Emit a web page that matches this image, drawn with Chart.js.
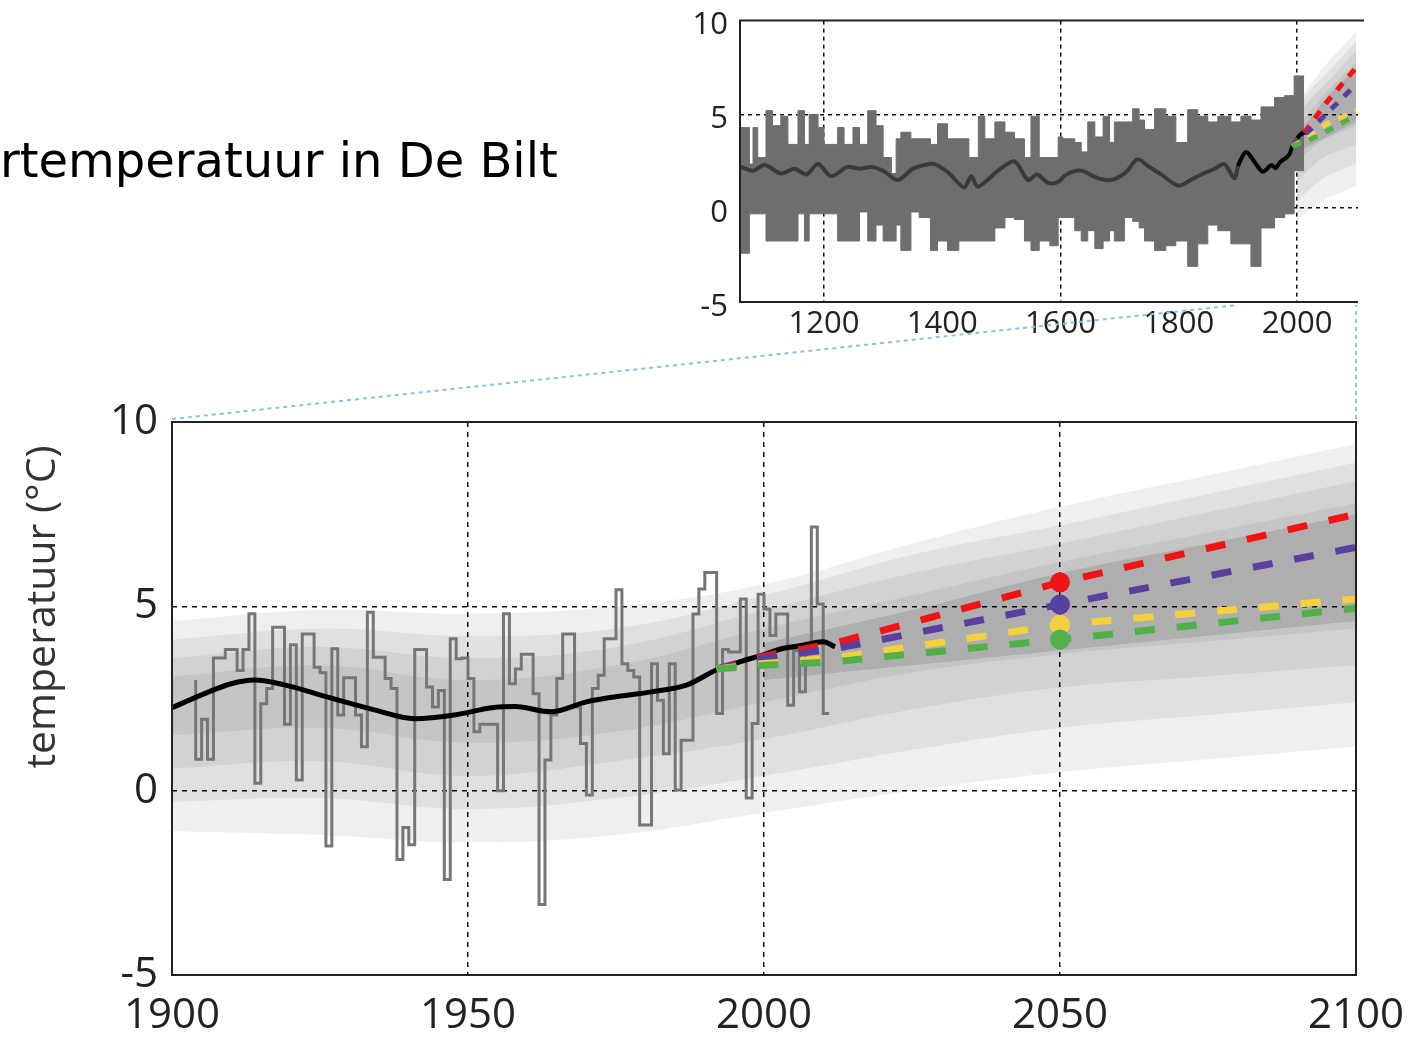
<!DOCTYPE html>
<html>
<head>
<meta charset="utf-8">
<script src="https://cdn.jsdelivr.net/npm/chart.js@4"></script>
<style>
  body { margin: 0; background: #fff; width: 1412px; height: 1038px; position: relative; overflow: hidden; }
  #main { position: absolute; left: 0; top: 0; }
  #inset { position: absolute; left: 680px; top: -10px; }
  #links { position: absolute; left: 0; top: 0; pointer-events: none; }
  #title { position: absolute; left: 0; top: 136px; font: 48px "DejaVu Sans"; line-height: 48px; white-space: nowrap; color: #000; }
</style>
</head>
<body>
<canvas id="main" width="1412" height="1038"></canvas>
<canvas id="inset" width="732" height="360"></canvas>
<canvas id="links" width="1412" height="1038"></canvas>
<div id="title">rtemperatuur in De Bilt</div>
<script>
// axis ticks
const xTicks = [1900, 1950, 2000, 2050, 2100];
const xGrid = [1950, 2000, 2050];
const yTicks = [-5, 0, 5, 10];
const yGrid = [0, 5];
const insetXTicks = [1200, 1400, 1600, 1800, 2000];
const insetXGrid = [1200, 1600, 2000];
const yTitle = 'temperatuur (°C)';

// winter temperature De Bilt, one value per year from 1904
const stepStart = 1904;
const winterTemps = [3.0, 0.85, 1.94, 0.85, 3.6, 3.6, 3.83, 3.83, 3.26, 3.83,
  4.8, 0.2, 2.36, 2.77, 4.43, 4.43, 1.8, 3.96, 0.29, 4.25,
  4.25, 3.35, 3.2, -1.5, 3.85, 2.05, 3.06, 3.06, 2.05, 1.19,
  4.84, 3.62, 3.62, 3.04, 2.77, -1.87, -1.0, -1.47, 3.83, 3.83,
  2.81, 2.27, 2.72, -2.41, 4.12, 3.58, 3.6, 3.04, 1.6, 1.8,
  1.8, 1.8, 0.0, 4.8, 2.9, 3.3, 3.7, 3.7, 2.63, -3.09,
  0.83, 2.05, 3.04, 4.25, 4.25, 2.27, 1.28, -0.12, 2.77, 3.13,
  4.12, 4.12, 5.45, 3.44, 3.26, 3.08, -0.93, -0.93, 3.44, 2.45,
  1.0, 3.44, 0.02, 1.37, 1.37, 4.79, 5.47, 5.92, 5.92, 2.09,
  3.83, 3.76, 3.76, 5.2, -0.2, 1.82, 5.33, 4.93, 4.21, 4.79,
  4.79, 2.32, 3.8, 2.68, 3.8, 7.15, 5.06, 2.09];
const stepYears = winterTemps.map((v, i) => stepStart + i);

// smoothed observations
const smoothYears = [1900, 1905, 1910, 1914, 1919, 1926, 1934, 1941, 1948, 1954, 1958, 1964, 1970, 1975, 1981, 1987, 1992, 1996, 2000, 2003, 2006, 2010, 2012];
const smoothTemps = [2.25, 2.6, 2.9, 3.0, 2.87, 2.55, 2.2, 1.95, 2.06, 2.25, 2.28, 2.14, 2.41, 2.55, 2.68, 2.87, 3.28, 3.5, 3.69, 3.85, 3.93, 4.04, 3.9];

// scenarios (red, purple, yellow, green)
const scenYears = [1992, 2000, 2012, 2050, 2100];
const scenRed = [3.3, 3.65, 4.0, 5.65, 7.5];
const scenPurple = [3.3, 3.6, 3.85, 5.05, 6.6];
const scenYellow = [3.3, 3.45, 3.6, 4.5, 5.2];
const scenGreen = [3.3, 3.4, 3.5, 4.1, 4.95];
const scenColors = ['#f01414', '#5b3f9e', '#f4d03f', '#52b04a'];
const dotYear = 2050;

// uncertainty fan
const fanYears = [1900, 1925, 1950, 1975, 2000, 2025, 2050, 2075, 2100];
const fanOuterHi = [4.6, 4.9, 4.8, 5.0, 5.6, 6.7, 7.7, 8.55, 9.4];
const fanOuterLo = [-1.1, -1.2, -1.4, -1.2, -0.6, 0.0, 0.5, 0.85, 1.2];
const fanMidHi = [4.1, 4.4, 4.2, 4.4, 5.3, 6.4, 7.2, 8.05, 8.9];
const fanMidLo = [-0.3, -0.2, -0.5, -0.2, 0.4, 1.1, 1.7, 2.05, 2.4];
const fanInnerHi = [3.6, 3.9, 3.6, 3.9, 4.9, 5.9, 6.7, 7.55, 8.4];
const fanInnerLo = [0.6, 0.8, 0.4, 0.8, 1.4, 2.2, 2.8, 3.1, 3.4];
const fanCoreHi = [3.1, 3.4, 3.0, 3.4, 4.4, 5.3, 6.2, 7.0, 7.8];
const fanCoreLo = [1.5, 1.7, 1.3, 1.6, 2.4, 3.2, 3.7, 4.05, 4.4];
const futureYears = [2000, 2025, 2050, 2075, 2100];
const futureCoreHi = [4.0, 4.9, 5.9, 6.7, 7.5];
const futureCoreLo = [3.0, 3.4, 3.8, 4.2, 4.6];

// inset: reconstruction since ~1060 (segment start year, upper and lower edge)
const insetYears = [1058, 1074, 1080, 1088, 1102, 1113, 1127, 1139, 1156, 1167, 1175, 1190, 1200, 1223, 1234,
  1249, 1260, 1274, 1288, 1300, 1314, 1322, 1330, 1347, 1361, 1380, 1392, 1409, 1428, 1445,
  1461, 1472, 1489, 1506, 1522, 1539, 1550, 1564, 1582, 1596, 1604, 1624, 1635, 1646, 1658,
  1672, 1683, 1691, 1708, 1722, 1733, 1742, 1759, 1778, 1795, 1815, 1832, 1849, 1866, 1888,
  1905, 1922, 1939, 1962, 1979, 1995, 2005, 2012];
const insetHigh = [4.3, 4.3, 2.35, 4.3, 2.7, 5.2, 4.4, 4.9, 3.4, 5.2, 3.4, 5.0, 4.3, 3.4, 4.3,
  3.4, 4.3, 3.4, 5.2, 4.4, 2.7, 1.85, 3.7, 4.05, 3.7, 3.7, 3.4, 4.5, 3.7, 3.7,
  2.7, 4.9, 3.7, 4.6, 4.05, 3.7, 2.7, 4.9, 2.7, 2.7, 3.8, 3.7, 3.5, 3.0, 4.6,
  3.8, 4.9, 3.5, 4.6, 4.6, 5.3, 4.7, 4.2, 5.3, 4.9, 3.5, 5.25, 4.9, 4.6, 4.9,
  4.6, 4.9, 4.7, 5.4, 5.9, 6.0, 7.05, 7.05];
const insetLow = [-0.3, -2.4, -0.3, -0.3, -0.3, -1.75, -1.75, -1.75, -1.75, -0.3, -1.75, -0.3, -0.3, -0.3, -1.75,
  -1.75, -1.75, -0.2, -1.75, -0.9, -1.75, -1.75, -0.9, -2.25, -0.2, -0.5, -2.25, -1.75, -2.25, -1.75,
  -1.75, -1.75, -1.75, -1.05, -0.5, -0.6, -1.75, -2.25, -1.75, -2.0, -0.5, -0.5, -1.2, -1.75, -1.2,
  -2.15, -1.75, -1.2, -1.75, -0.5, -0.7, -1.05, -1.75, -2.25, -2.0, -1.75, -3.1, -1.9, -0.9, -1.2,
  -1.9, -1.9, -3.1, -1.05, -0.5, -0.3, 2.0, 2.0];
const insetSmoothYears = [1059, 1080, 1100, 1127, 1150, 1170, 1190, 1212, 1240, 1260, 1280, 1300, 1325, 1350, 1370,
  1387, 1410, 1437, 1449, 1460, 1480, 1494, 1522, 1545, 1560, 1579, 1596, 1610, 1635, 1663,
  1685, 1710, 1730, 1750, 1770, 1799, 1820, 1838, 1860, 1877, 1894, 1900];
const insetSmoothTemps = [2.2, 2.0, 2.3, 1.85, 2.1, 1.8, 2.35, 1.7, 2.2, 2.1, 2.2, 2.0, 1.5, 2.1, 2.3,
  2.35, 1.9, 1.1, 1.7, 1.15, 1.6, 2.0, 2.5, 1.5, 1.8, 1.35, 1.4, 1.8, 2.0, 1.6,
  1.5, 1.9, 2.6, 2.2, 1.8, 1.2, 1.5, 1.8, 2.1, 2.35, 1.6, 2.25];

const fanShade = 'rgba(0,0,0,0.062)';
const fanShadeDark = 'rgba(0,0,0,0.12)';
const tickFont = { family: 'Open Sans', size: 42 };
const xTickFont = { family: 'Open Sans', size: 42, lineHeight: 1.6 };
const insetFont = { family: 'Open Sans', size: 31 };

const pts = (xs, ys) => xs.map((x, i) => ({ x: x, y: ys[i] }));
const scenarios = [scenRed, scenPurple, scenYellow, scenGreen];

function band(xs, hi, lo, color, order) {
  return [
    { data: pts(xs, hi), fill: '+1', backgroundColor: color, borderColor: 'rgba(0,0,0,0)', borderWidth: 0, pointRadius: 0, tension: 0.4, order: order },
    { data: pts(xs, lo), fill: false, borderColor: 'rgba(0,0,0,0)', borderWidth: 0, pointRadius: 0, tension: 0.4, order: order }
  ];
}

function fanBands(from) {
  const cut = a => a.filter((v, i) => fanYears[i] >= from);
  const ys = cut(fanYears);
  return [
    ...band(ys, cut(fanOuterHi), cut(fanOuterLo), fanShade, 20),
    ...band(ys, cut(fanMidHi), cut(fanMidLo), fanShade, 19),
    ...band(ys, cut(fanInnerHi), cut(fanInnerLo), fanShade, 18),
    ...band(ys, cut(fanCoreHi), cut(fanCoreLo), fanShade, 17),
    ...band(futureYears, futureCoreHi, futureCoreLo, fanShadeDark, 16)
  ];
}

function scenLines(width, dash) {
  return scenarios.map((s, i) => ({
    data: pts(scenYears, s), borderColor: scenColors[i], borderWidth: width, borderDash: dash,
    borderCapStyle: 'butt', pointRadius: 0, tension: 0, fill: false, order: 3 - i * 0.1
  }));
}

const gridColor = list => c => list.includes(c.tick.value) ? '#111' : 'rgba(0,0,0,0)';

// frame round the plot area and the rotated axis title
const mainFrame = {
  id: 'mainFrame',
  afterDatasetsDraw(chart) {
    const { ctx, chartArea: a } = chart;
    ctx.save();
    ctx.strokeStyle = '#222';
    ctx.lineWidth = 2;
    ctx.strokeRect(a.left, a.top, a.right - a.left, a.bottom - a.top);
    ctx.restore();
  },
  afterDraw(chart) {
    const { ctx, chartArea: a } = chart;
    ctx.save();
    ctx.translate(43, a.top + 185);
    ctx.rotate(-Math.PI / 2);
    ctx.font = '41px "Open Sans"';
    ctx.fillStyle = '#333';
    ctx.textAlign = 'center';
    ctx.textBaseline = 'middle';
    ctx.fillText(yTitle, 0, 0);
    ctx.restore();
  }
};

const insetFrame = {
  id: 'insetFrame',
  afterDatasetsDraw(chart) {
    const { ctx, chartArea: a } = chart;
    ctx.save();
    ctx.strokeStyle = '#222';
    ctx.lineWidth = 2;
    ctx.beginPath();
    ctx.moveTo(a.right + 6, a.top);
    ctx.lineTo(a.left, a.top);
    ctx.lineTo(a.left, a.bottom);
    ctx.lineTo(a.right, a.bottom);
    ctx.stroke();
    ctx.restore();
  }
};

const mainChart = new Chart(document.getElementById('main'), {
  type: 'line',
  data: {
    datasets: [
      ...fanBands(fanYears[0]),
      { data: pts(stepYears, winterTemps), stepped: 'after', borderColor: '#767676', borderWidth: 3, pointRadius: 0, fill: false, order: 5 },
      { data: pts(smoothYears, smoothTemps), borderColor: '#000', borderWidth: 5, pointRadius: 0, tension: 0.4, cubicInterpolationMode: 'monotone', fill: false, order: 4 },
      ...scenLines(7, [20, 22]),
      {
        data: scenarios.map(s => ({ x: dotYear, y: s[scenYears.indexOf(dotYear)] })),
        showLine: false, pointRadius: 10, pointBackgroundColor: scenColors, pointBorderWidth: 0, order: 0
      }
    ]
  },
  options: {
    responsive: false,
    animation: false,
    layout: { padding: { top: 422, right: 56, left: 0, bottom: 0 } },
    plugins: { legend: { display: false }, tooltip: { enabled: false } },
    scales: {
      x: {
        type: 'linear', min: 1900, max: 2100,
        afterBuildTicks: s => { s.ticks = xTicks.map(v => ({ value: v })); },
        afterFit: s => { s.height = 63; },
        grid: { color: gridColor(xGrid), lineWidth: 1.5, drawTicks: false },
        border: { display: false, dash: [5, 5] },
        ticks: { font: xTickFont, color: '#222', padding: 7, maxRotation: 0, autoSkip: false, callback: v => String(v) }
      },
      y: {
        min: -5, max: 10,
        afterBuildTicks: s => { s.ticks = yTicks.map(v => ({ value: v })); },
        afterFit: s => { s.width = 172; },
        grid: { color: gridColor(yGrid), lineWidth: 1.5, drawTicks: false },
        border: { display: false, dash: [5, 5] },
        ticks: { font: tickFont, color: '#222', padding: 14 }
      }
    }
  },
  plugins: [mainFrame]
});

const insetChart = new Chart(document.getElementById('inset'), {
  type: 'line',
  data: {
    datasets: [
      ...fanBands(2000),
      { data: pts(insetYears, insetHigh), stepped: 'after', fill: '+1', backgroundColor: '#6e6e6e', borderColor: '#6e6e6e', borderWidth: 1, pointRadius: 0, order: 6 },
      { data: pts(insetYears, insetLow), stepped: 'after', fill: false, borderColor: '#6e6e6e', borderWidth: 1, pointRadius: 0, order: 6 },
      { data: pts(insetSmoothYears, insetSmoothTemps), borderColor: '#3a3a3a', borderWidth: 4, pointRadius: 0, tension: 0.3, fill: false, order: 5 },
      { data: pts(smoothYears, smoothTemps), borderColor: '#000', borderWidth: 4, pointRadius: 0, tension: 0.3, fill: false, order: 4 },
      ...scenLines(5, [9, 9])
    ]
  },
  options: {
    responsive: false,
    animation: false,
    layout: { padding: { top: 22, right: 54, left: 0, bottom: 0 } },
    plugins: { legend: { display: false }, tooltip: { enabled: false } },
    scales: {
      x: {
        type: 'linear', min: 1058, max: 2103,
        afterBuildTicks: s => { s.ticks = insetXTicks.map(v => ({ value: v })); },
        afterFit: s => { s.height = 48; },
        grid: { color: gridColor(insetXGrid), lineWidth: 1.5, drawTicks: false },
        border: { display: false, dash: [4, 4] },
        ticks: { font: insetFont, color: '#222', padding: 4, maxRotation: 0, autoSkip: false, callback: v => String(v) }
      },
      y: {
        min: -5, max: 10,
        afterBuildTicks: s => { s.ticks = yTicks.map(v => ({ value: v })); },
        afterFit: s => { s.width = 60; },
        grid: { color: gridColor(yGrid), lineWidth: 1.5, drawTicks: false },
        border: { display: false, dash: [4, 4] },
        ticks: { font: insetFont, color: '#222', padding: 12, labelOffset: 5 }
      }
    }
  },
  plugins: [insetFrame]
});

// dotted connectors between the inset and the main chart
const insetLeft = 680, insetTop = -10;
const lk = document.getElementById('links').getContext('2d');
lk.strokeStyle = '#86c5e3';
lk.lineWidth = 2;
lk.setLineDash([4, 4]);
[mainChart.scales.x.min, mainChart.scales.x.max].forEach(yr => {
  lk.beginPath();
  lk.moveTo(mainChart.scales.x.getPixelForValue(yr), mainChart.chartArea.top - 3);
  lk.lineTo(insetLeft + insetChart.scales.x.getPixelForValue(yr), insetTop + insetChart.chartArea.bottom + 3);
  lk.stroke();
});
</script>
</body>
</html>
